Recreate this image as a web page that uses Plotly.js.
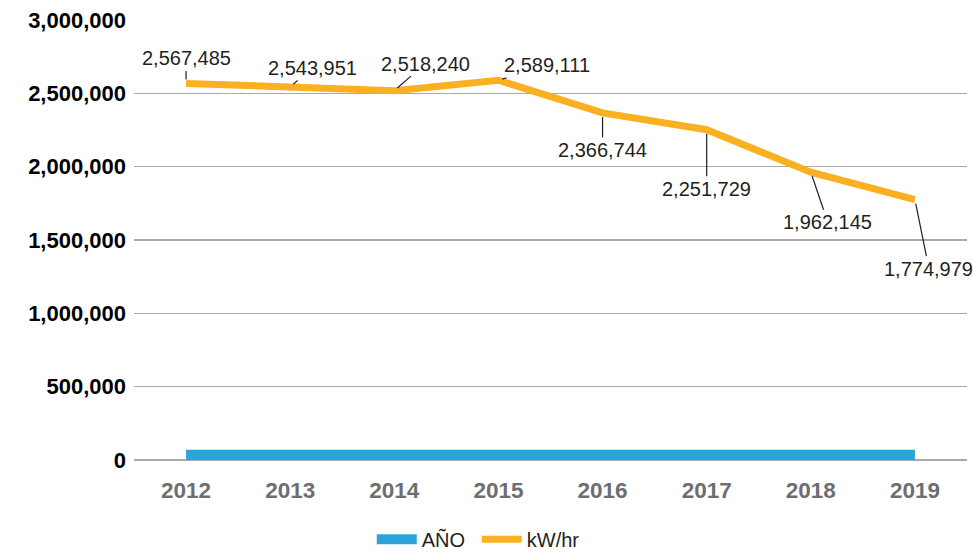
<!DOCTYPE html>
<html>
<head>
<meta charset="utf-8">
<script src="https://cdn.plot.ly/plotly-3.0.1.min.js"></script>
<style>html,body{margin:0;padding:0;background:#fff;}#chart{width:973px;height:556px;}</style>
</head>
<body>
<div id="chart"></div>
<script>
// Data
const years = ['2012','2013','2014','2015','2016','2017','2018','2019'];
const anio = [2012, 2013, 2014, 2015, 2016, 2017, 2018, 2019];
const kwhr = [2567485, 2543951, 2518240, 2589111, 2366744, 2251729, 1962145, 1774979];
const yTicks = [0, 500000, 1000000, 1500000, 2000000, 2500000, 3000000];

// Label offsets (pixels) for leader-lined data labels
const labelDX = [0, 22, 31, 49, 0, 0, 17, 14];
const labelDY = [-25, -19, -27, -15, 37, 59, 50, 69];

const annotations = kwhr.map((v, i) => ({
  x: i, y: v, xref: 'x', yref: 'y',
  text: v.toLocaleString('en-US'),
  showarrow: true, arrowhead: 0, arrowwidth: 1.2, arrowcolor: '#231f20',
  ax: labelDX[i], ay: labelDY[i], standoff: 4,
  font: {family: 'Liberation Sans, Arial, sans-serif', size: 20, color: '#231f20'}
}));

const traces = [
  {x: years, y: anio, name: 'AÑO', type: 'scatter', mode: 'lines',
   line: {color: '#2CA4DA', width: 20}, hoverinfo: 'skip'},
  {x: years, y: kwhr, name: 'kW/hr', type: 'scatter', mode: 'lines',
   line: {color: '#FBB021', width: 7}, hoverinfo: 'skip'}
];

const layout = {
  width: 973, height: 556,
  margin: {l: 134, r: 6, t: 20, b: 96},
  paper_bgcolor: '#fff', plot_bgcolor: '#fff',
  showlegend: true,
  legend: {orientation: 'h', xref: 'container', yref: 'container', x: 0.49, xanchor: 'center',
           y: 0.03, yanchor: 'middle', itemwidth: 40, entrywidth: 50, entrywidthmode: 'pixels',
           font: {family: 'Liberation Sans, Arial, sans-serif', size: 20, color: '#231f20'}},
  xaxis: {type: 'category', range: [-0.5, 7.5], showgrid: false, zeroline: false,
          showline: false, ticks: '', ticklabelstandoff: 14,
          tickfont: {family: 'Liberation Sans, Arial, sans-serif', size: 22.5, color: '#6D6E71', weight: 'bold'}},
  yaxis: {range: [0, 3000000], tickvals: yTicks, tickformat: ',d', showgrid: true,
          gridcolor: '#A7A9AC', gridwidth: 1.5, zeroline: true, zerolinecolor: '#A7A9AC', zerolinewidth: 1.5,
          showline: false, ticks: '', ticklabelstandoff: 7,
          tickfont: {family: 'Liberation Sans, Arial, sans-serif', size: 22, color: '#000', weight: 'bold'}},
  annotations: annotations
};

Plotly.newPlot('chart', traces, layout, {staticPlot: true, displayModeBar: false});
</script>
</body>
</html>
